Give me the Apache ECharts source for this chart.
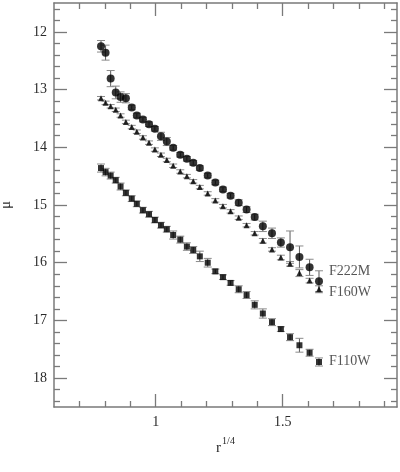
<!DOCTYPE html>
<html>
<head>
<meta charset="utf-8">
<script src="https://cdn.jsdelivr.net/npm/echarts@6/dist/echarts.min.js"></script>
<style>html,body{margin:0;padding:0;background:#fff;}#c{width:400px;height:472px;}</style>
</head>
<body>
<div id="c"></div>
<script>
// ---- data ----
const seriesNames = ['F222M', 'F160W', 'F110W'];
const rQuarter = [0.785,0.803,0.823,0.843,0.862,0.883,0.906,0.926,0.950,0.974,0.997,1.021,1.044,1.069,1.097,1.123,1.148,1.174,1.205,1.235,1.265,1.295,1.327,1.358,1.390,1.422,1.458,1.493,1.529,1.566,1.606,1.643];
const muF222M = [12.25,12.36,12.81,13.05,13.13,13.15,13.31,13.45,13.52,13.60,13.68,13.81,13.90,14.01,14.13,14.20,14.27,14.36,14.49,14.61,14.73,14.84,14.96,15.08,15.21,15.37,15.49,15.65,15.73,15.90,16.08,16.32];
const errF222M = [0.10,0.13,0.14,0.11,0.09,0.08,0.04,0.04,0.04,0.04,0.04,0.07,0.07,0.04,0.04,0.04,0.04,0.04,0.04,0.04,0.04,0.04,0.05,0.05,0.05,0.09,0.09,0.08,0.28,0.19,0.14,0.18];
const muF160W = [13.15,13.23,13.29,13.35,13.45,13.56,13.65,13.73,13.83,13.92,14.04,14.13,14.22,14.32,14.42,14.50,14.59,14.69,14.80,14.92,15.02,15.11,15.22,15.35,15.49,15.62,15.77,15.91,16.02,16.18,16.31,16.46];
const errF160W = [0.03,0.03,0.03,0.03,0.03,0.03,0.03,0.03,0.03,0.03,0.03,0.03,0.03,0.03,0.03,0.03,0.03,0.03,0.03,0.03,0.03,0.03,0.03,0.03,0.03,0.04,0.03,0.04,0.04,0.06,0.04,0.06];
const muF110W = [14.36,14.43,14.49,14.57,14.68,14.79,14.89,14.98,15.09,15.16,15.26,15.35,15.42,15.52,15.60,15.72,15.78,15.89,16.00,16.15,16.25,16.35,16.46,16.56,16.73,16.88,17.03,17.15,17.29,17.43,17.56,17.72];
const errF110W = [0.07,0.065,0.06,0.05,0.06,0.05,0.05,0.05,0.05,0.05,0.05,0.05,0.05,0.07,0.06,0.065,0.06,0.09,0.075,0.04,0.04,0.04,0.06,0.06,0.07,0.08,0.06,0.04,0.06,0.12,0.06,0.07];
const xMajorTicks = [1, 1.5];
const xTickLabels = ['1', '1.5'];
const xMinorTicks = [0.7,0.8,0.9,1.1,1.2,1.3,1.4,1.6,1.7,1.8,1.9];
const yMajorTicks = [12,13,14,15,16,17,18];
const yTickLabels = ['12','13','14','15','16','17','18'];
const yMinorTicks = [11.6,11.8,12.2,12.4,12.6,12.8,13.2,13.4,13.6,13.8,14.2,14.4,14.6,14.8,15.2,15.4,15.6,15.8,16.2,16.4,16.6,16.8,17.2,17.4,17.6,17.8,18.2,18.4];

const FONT = 'Liberation Serif';
const AX = '#7a7a7a';
const TXT = '#2a2a2a';

function xAx(pos, ticks, len, showLine, labels) {
  return {
    type: 'value', position: pos, min: 0.6, max: 1.95, gridIndex: 0,
    axisLine: { show: showLine, onZero: false, lineStyle: { color: AX, width: 1.5 } },
    axisTick: { show: true, inside: true, length: len, customValues: ticks, lineStyle: { color: AX, width: 1.3 } },
    axisLabel: labels ? {
      show: true, customValues: xMajorTicks, margin: 8,
      formatter: v => xTickLabels[xMajorTicks.indexOf(v)] ?? '',
      fontFamily: FONT, fontSize: 14, color: TXT
    } : { show: false },
    splitLine: { show: false }
  };
}
function yAx(pos, ticks, len, showLine, labels) {
  return {
    type: 'value', position: pos, min: 11.5, max: 18.5, inverse: true, gridIndex: 0,
    axisLine: { show: showLine, onZero: false, lineStyle: { color: AX, width: 1.5 } },
    axisTick: { show: true, inside: true, length: len, customValues: ticks, lineStyle: { color: AX, width: 1.3 } },
    axisLabel: labels ? {
      show: true, customValues: yMajorTicks, margin: 7,
      formatter: v => yTickLabels[yMajorTicks.indexOf(v)] ?? '',
      fontFamily: FONT, fontSize: 14, color: TXT
    } : { show: false },
    splitLine: { show: false }
  };
}

const xAxes = [
  xAx('bottom', xMajorTicks, 13, true, true),
  xAx('bottom', xMinorTicks, 6, false, false),
  xAx('top', xMajorTicks, 13, true, false),
  xAx('top', xMinorTicks, 6, false, false)
];
xAxes[0].name = '{r|r}{s|1/4}';
xAxes[0].nameLocation = 'middle';
xAxes[0].nameGap = 29;
xAxes[0].nameTextStyle = {
  rich: {
    r: { fontFamily: FONT, fontSize: 15, color: TXT, verticalAlign: 'bottom', lineHeight: 20 },
    s: { fontFamily: FONT, fontSize: 10, color: TXT, verticalAlign: 'top', lineHeight: 20, padding: [0, 0, 0, 1] }
  }
};
const yAxes = [
  yAx('left', yMajorTicks, 13, true, true),
  yAx('left', yMinorTicks, 6, false, false),
  yAx('right', yMajorTicks, 13, true, false),
  yAx('right', yMinorTicks, 6, false, false)
];
yAxes[0].name = 'μ';
yAxes[0].nameLocation = 'middle';
yAxes[0].nameGap = 40;
yAxes[0].nameTextStyle = { fontFamily: FONT, fontSize: 15, color: TXT };

function errSeries(xs, ys, es) {
  return {
    type: 'custom', xAxisIndex: 0, yAxisIndex: 0, z: 2, silent: true,
    encode: { x: 0, y: [1, 2] },
    data: xs.map((x, i) => [x, ys[i] - es[i], ys[i] + es[i]]),
    renderItem: function (params, api) {
      const p1 = api.coord([api.value(0), api.value(1)]);
      const p2 = api.coord([api.value(0), api.value(2)]);
      const w = 4;
      const st = { stroke: '#5a5a5a', lineWidth: 1 };
      return {
        type: 'group', children: [
          { type: 'line', shape: { x1: p1[0], y1: p1[1], x2: p2[0], y2: p2[1] }, style: st },
          { type: 'line', shape: { x1: p1[0] - w, y1: p1[1], x2: p1[0] + w, y2: p1[1] }, style: { stroke: '#8a8a8a', lineWidth: 1 } },
          { type: 'line', shape: { x1: p2[0] - w, y1: p2[1], x2: p2[0] + w, y2: p2[1] }, style: { stroke: '#8a8a8a', lineWidth: 1 } }
        ]
      };
    }
  };
}
function ptSeries(name, xs, ys, symbol, size, labelOffset, labelDist) {
  return {
    type: 'scatter', name: name, xAxisIndex: 0, yAxisIndex: 0, z: 3, silent: true,
    symbol: symbol, symbolSize: size,
    itemStyle: { color: '#000' },
    data: xs.map((x, i) => {
      if (i === xs.length - 1) {
        return {
          value: [x, ys[i]],
          label: {
            show: true, position: 'right', distance: labelDist, offset: labelOffset,
            formatter: name, fontFamily: FONT, fontSize: 14, color: TXT
          }
        };
      }
      return [x, ys[i]];
    })
  };
}

const chart = echarts.init(document.getElementById('c'), null, { renderer: 'canvas' });
chart.setOption({
  animation: false,
  backgroundColor: '#fff',
  grid: { left: 54, right: 3, top: 3, bottom: 65, containLabel: false, outerBoundsMode: 'none' },
  xAxis: xAxes,
  yAxis: yAxes,
  series: [
    errSeries(rQuarter, muF222M, errF222M),
    errSeries(rQuarter, muF160W, errF160W),
    errSeries(rQuarter, muF110W, errF110W),
    ptSeries(seriesNames[0], rQuarter, muF222M, 'circle', 8, [0, -10], 6),
    ptSeries(seriesNames[1], rQuarter, muF160W, 'triangle', 6, [0, 3], 7),
    ptSeries(seriesNames[2], rQuarter, muF110W, 'rect', 6, [0, -1], 7)
  ]
});
</script>
</body>
</html>
